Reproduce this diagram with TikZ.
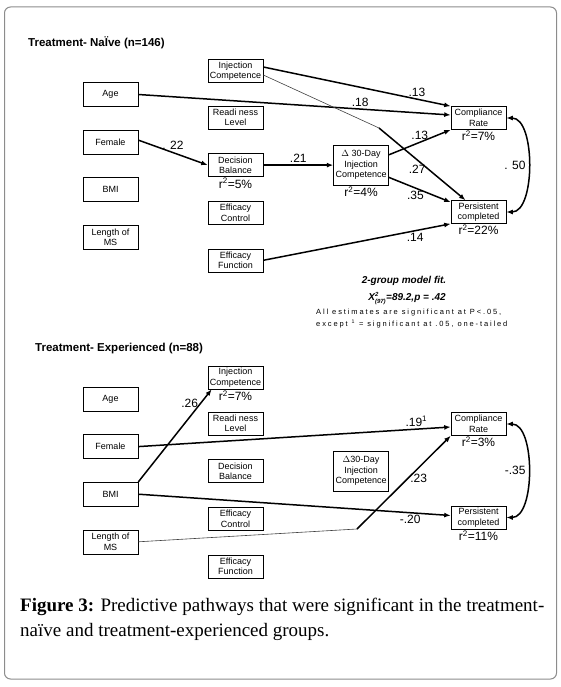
\documentclass[tikz,border=0pt]{standalone}
\usepackage{fontspec}
\setmainfont{Liberation Sans}
\newfontfamily\captionfont{Liberation Serif}
\newfontfamily\notefont[LetterSpace=25]{Liberation Sans}
\usetikzlibrary{arrows.meta,positioning}

\newcommand{\boxfont}{\fontsize{9}{10.5}\selectfont}
\newcommand{\coeffont}{\fontsize{12}{12}\selectfont}

\begin{document}
\begin{tikzpicture}[x=1pt,y=-1pt,>={Latex[length=6.5pt,width=5pt]},every node/.append style={align=center},var/.style={draw, line width=0.6pt, minimum width=55pt, minimum height=23pt, inner sep=1pt, font=\boxfont},pred/.style={var, minimum height=24pt},rsq/.style={inner sep=1pt, font=\coeffont},coef/.style={inner sep=2pt, font=\coeffont},eff/.style={->, line width=1.5pt},weak/.style={line width=0.6pt, black!75},title/.style={anchor=west, inner sep=0pt, font=\fontsize{11.5}{12}\selectfont\bfseries},capt/.style={anchor=base west, inner sep=0pt, font=\captionfont\fontsize{19}{22}\selectfont}]
    \useasboundingbox (0,0) rectangle (561,687);
    \draw[black!45, line width=1pt, rounded corners=6pt] (4.5,7) rectangle (556.5,679);
    % treatment-naive group
    \node [title] (head1) at (28,43) {Treatment- NaÏve (n=146)};
    \node [pred] (age1) at (110.5,94.5) {Age};
    \node [pred, below=23pt of age1] (fem1) {Female};
    \node [pred, below=23pt of fem1] (bmi1) {BMI};
    \node [pred, below=23pt of bmi1] (len1) {Length of\\MS};
    \node [var] (ic1) at (235.5,71) {Injection\\Competence};
    \node [var] (rl1) at (235.5,117.5) {Readi ness\\Level};
    \node [var, below=24pt of rl1] (db1) {Decision\\Balance};
    \node [var, below=24pt of db1] (ec1) {Efficacy\\Control};
    \node [var, below=24pt of ec1] (ef1) {Efficacy\\Function};
    \node [var, minimum height=40pt, right=70pt of db1] (dic1) {$\Delta$ 30-Day\\Injection\\Competence};
    \node [var] (comp1) at (478.5,118) {Compliance\\Rate};
    \node [var] (pers1) at (478.5,212) {Persistent\\completed};
    \node [rsq, below=0pt of db1] (db1r) {r\textsuperscript{2}=5\%};
    \node [rsq, below=0pt of dic1] (dic1r) {r\textsuperscript{2}=4\%};
    \node [rsq, below=0pt of comp1] (comp1r) {r\textsuperscript{2}=7\%};
    \node [rsq, below=0pt of pers1] (pers1r) {r\textsuperscript{2}=22\%};
    \coordinate (bend1) at (379,128);
    \draw[eff] ([yshift=4pt]ic1.east) -- (comp1.north west) node [coef, pos=0.82, above] {.13};
    \draw[eff] (age1.east) -- ([yshift=3pt]comp1.west) node [coef, pos=0.71, above] {.18};
    \draw[weak] ([yshift=-4pt]ic1.east) -- (bend1);
    \draw[eff] (bend1) -- ([xshift=-13pt]pers1.north) node [coef, pos=0.57, left] {.27};
    \draw[eff] ([yshift=2pt]fem1.east) -- (db1.west) node [coef, midway, above] {. 22};
    \draw[eff] (db1) -- (dic1) node [coef, midway, above] {.21};
    \draw[eff] ([yshift=-10pt]dic1.north east) -- (comp1.south west) node [coef, midway, above] {.13};
    \draw[eff] ([yshift=8pt]dic1.south east) -- ([yshift=-2pt]pers1.north west) node [coef, pos=0.43, below] {.35};
    \draw[eff] (ef1.east) -- (pers1.south west) node [coef, pos=0.81, below] {.14};
    \draw[<->, line width=1.5pt] (comp1.east) to[out=0, in=0, looseness=0.8] node [coef, left] {. 50} (pers1.east);
    % model fit
    \node [inner sep=0pt, font=\fontsize{10}{12}\selectfont\bfseries\itshape] (fit) at (404,281) {2-group model fit.};
    \node [inner sep=0pt, font=\fontsize{10}{12}\selectfont\bfseries\itshape] (chi) at (407,298.5) {X$^{\mbox{\fontsize{6}{6}\selectfont 2}}_{\mbox{\fontsize{6}{6}\selectfont (97)}}$=89.2,p = .42};
    \node [anchor=west, inner sep=0pt, font=\notefont\fontsize{7.5}{8}\selectfont] (note1) at (316,312.5) {All estimates are significant at P<.05,};
    \node [anchor=west, inner sep=0pt, font=\notefont\fontsize{7.5}{8}\selectfont] (note2) at (316,323.5) {except \textsuperscript{1} = significant at .05, one-tailed};
    % treatment-experienced group
    \node [title] (head2) at (35,349) {Treatment- Experienced (n=88)};
    \node [pred] (age2) at (110.5,399) {Age};
    \node [pred, below=23pt of age2] (fem2) {Female};
    \node [pred, below=23pt of fem2] (bmi2) {BMI};
    \node [pred, below=23pt of bmi2] (len2) {Length of\\MS};
    \node [var] (ic2) at (235.5,377.5) {Injection\\Competence};
    \node [var] (rl2) at (235.5,423.5) {Readi ness\\Level};
    \node [var, below=24pt of rl2] (db2) {Decision\\Balance};
    \node [var, below=24pt of db2] (ec2) {Efficacy\\Control};
    \node [var, below=24pt of ec2] (ef2) {Efficacy\\Function};
    \node [var, minimum height=40pt, right=70pt of db2] (dic2) {$\Delta$30-Day\\Injection\\Competence};
    \node [var] (comp2) at (478.5,424) {Compliance\\Rate};
    \node [var] (pers2) at (478.5,517.5) {Persistent\\completed};
    \node [rsq, below=0pt of ic2] (ic2r) {r\textsuperscript{2}=7\%};
    \node [rsq, below=0pt of comp2] (comp2r) {r\textsuperscript{2}=3\%};
    \node [rsq, below=0pt of pers2] (pers2r) {r\textsuperscript{2}=11\%};
    \coordinate (bend2) at (357,529);
    \draw[eff] (bmi2.north east) -- ([xshift=4pt]ic2.south west) node [coef, pos=0.85, left] {.26};
    \draw[eff] (fem2.east) -- ([yshift=-3pt]comp2.west) node [coef, pos=0.89, above] {.19\textsuperscript{1}};
    \draw[eff] (bmi2.east) -- ([yshift=2pt]pers2.west) node [coef, pos=0.87, below] {-.20};
    \draw[weak] (len2.east) -- (bend2);
    \draw[eff] (bend2) -- (comp2.south west) node [coef, pos=0.54, right] {.23};
    \draw[<->, line width=1.5pt] (comp2.east) to[out=0, in=0, looseness=0.8] node [coef, left] {-.35} (pers2.east);
    % caption
    \node [capt] (cap1) at (20,611) {\textbf{Figure 3:} Predictive pathways that were significant in the treatment-};
    \node [capt] (cap2) at (20,636) {naïve and treatment-experienced groups.};
\end{tikzpicture}
\end{document}
